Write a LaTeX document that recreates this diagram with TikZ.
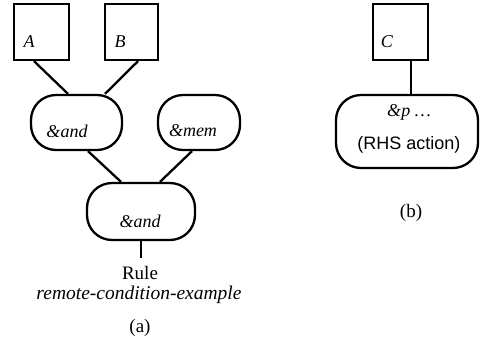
\documentclass[tikz,border=0pt]{standalone}
\usepackage{fontspec}
\setmainfont{Liberation Serif}
\setsansfont{Liberation Sans}
\usetikzlibrary{calc}
\begin{document}
\begin{tikzpicture}[x=1pt,y=-1pt,
  wme/.style={draw,line width=2.3pt,rectangle,inner sep=0pt},
  joinnode/.style={draw,line width=2.3pt,rectangle,rounded corners=25pt,inner sep=0pt},
  conn/.style={line width=2.3pt},
  lbl/.style={inner sep=0pt,font=\fontsize{18}{21}\selectfont\itshape},
  captxt/.style={inner sep=0pt,font=\fontsize{19}{22}\selectfont}]
\useasboundingbox (0,0) rectangle (480,341);
% boxes
\node[wme,minimum width=55pt,minimum height=56pt] (A) at (41.5,32) {};
\node[wme,minimum width=53pt,minimum height=56pt] (B) at (131.5,32) {};
\node[wme,minimum width=55pt,minimum height=56pt] (C) at (400.5,32) {};
\node[joinnode,minimum width=91pt,minimum height=55pt] (and1) at (76.5,122.5) {};
\node[joinnode,minimum width=82pt,minimum height=55pt] (mem) at (199,122.5) {};
\node[joinnode,minimum width=108pt,minimum height=57pt] (and2) at (141,211.5) {};
\node[joinnode,minimum width=142pt,minimum height=73pt] (p) at (407,131.5) {};
\coordinate (rule) at (141,258);
% texts
\node[lbl] (tA) at (29,42) {A};
\node[lbl] (tB) at (120,42) {B};
\node[lbl] (tC) at (387,42) {C};
\node[lbl] (tand1) at (67,131) {\&and};
\node[lbl] (tmem) at (193,131) {\&mem};
\node[lbl] (tand2) at (140,221) {\&and};
\node[lbl] (tp) at (409,112) {\&p \ldots};
\node[captxt,font=\fontsize{18}{21}\selectfont\sffamily] (tr) at (409,145) {(RHS action)};
\node[captxt] (trule) at (140,272.5) {Rule};
\node[lbl,font=\fontsize{19.5}{22}\selectfont\itshape] (tex) at (139,294.5) {remote-condition-example};
\node[captxt] (ta) at (140,328) {(a)};
\node[captxt] (tb) at (411,213) {(b)};
% connectors
\draw[conn] ([xshift=-7.5pt]A.south) -- ([xshift=-8.5pt]and1.north);
\draw[conn] ([xshift=6.5pt]B.south) -- ([xshift=28.5pt]and1.north);
\draw[conn] ([xshift=11.5pt]and1.south) -- ([xshift=-20pt]and2.north);
\draw[conn] ([xshift=-7pt]mem.south) -- ([xshift=19pt]and2.north);
\draw[conn] (and2.south) -- (rule);
\draw[conn] ([xshift=10.5pt]C.south) -- ([xshift=4pt]p.north);
\end{tikzpicture}
\end{document}
